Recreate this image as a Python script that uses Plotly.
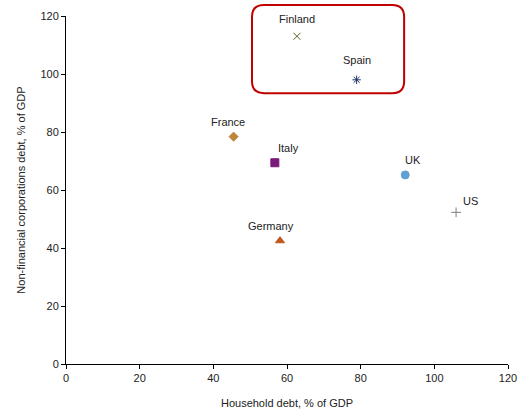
import plotly.graph_objects as go

countries = ["Finland", "Spain", "France", "Italy", "Germany", "UK", "US"]
household_debt = [62.7, 78.9, 45.5, 56.7, 58.1, 92.1, 105.9]
corporate_debt = [113.0, 98.0, 78.4, 69.4, 42.5, 65.2, 52.3]

symbols = ["x-thin-open", "asterisk-open", "diamond", "square", "triangle-up", "circle", "cross-thin-open"]
colors = ["#4F6228", "#1F3864", "#C0873C", "#7A1A7A", "#C0561C", "#5FA0D4", "#808080"]
sizes = [7, 7, 7, 8, 8, 8, 7]
# label offsets in data units (dx, dy)
label_pos = [(0, 5.8), (0, 6.8), (-1.5, 5.2), (3.8, 5.2), (-2.5, 5.0), (2.0, 5.0), (4.0, 3.8)]

X_RANGE = [0, 120]
Y_RANGE = [0, 120]

fig = go.Figure()
for c, x, y, s, col, sz in zip(countries, household_debt, corporate_debt, symbols, colors, sizes):
    fig.add_trace(go.Scatter(
        x=[x], y=[y], mode="markers", name=c,
        marker=dict(symbol=s, color=col, size=sz, line=dict(color=col, width=1)),
        showlegend=False,
    ))

for c, x, y, (dx, dy) in zip(countries, household_debt, corporate_debt, label_pos):
    fig.add_annotation(x=x + dx, y=y + dy, text=c, showarrow=False,
                       font=dict(size=11, color="#222222"))

# rounded highlight box around Finland and Spain (paper coordinates so it may
# extend above the plotting area)
def px(v):
    return (v - X_RANGE[0]) / (X_RANGE[1] - X_RANGE[0])

def py(v):
    return (v - Y_RANGE[0]) / (Y_RANGE[1] - Y_RANGE[0])

x0, x1, y0, y1 = px(50.5), px(91.8), py(93.4), py(123.8)
rx, ry = 12 / 442, 12 / 348
path = (f"M {x0+rx},{y1} L {x1-rx},{y1} Q {x1},{y1} {x1},{y1-ry} "
        f"L {x1},{y0+ry} Q {x1},{y0} {x1-rx},{y0} "
        f"L {x0+rx},{y0} Q {x0},{y0} {x0},{y0+ry} "
        f"L {x0},{y1-ry} Q {x0},{y1} {x0+rx},{y1} Z")
fig.add_shape(type="path", path=path, xref="paper", yref="paper",
              line=dict(color="#C00000", width=2))

axis_common = dict(
    showgrid=False, zeroline=False, showline=True, linecolor="#000000", linewidth=1,
    ticks="outside", ticklen=4, tickcolor="#000000", automargin=False,
    tickfont=dict(size=11, color="#222222"), dtick=20,
)
fig.update_xaxes(range=X_RANGE, title=dict(text="Household debt, % of GDP",
                 font=dict(size=11, color="#222222"), standoff=16), **axis_common)
fig.update_yaxes(range=Y_RANGE, title=dict(text="Non-financial corporations debt, % of GDP",
                 font=dict(size=11, color="#222222"), standoff=12), **axis_common)

fig.update_layout(
    width=527, height=416,
    margin=dict(l=66, r=19, t=16, b=52),
    paper_bgcolor="white", plot_bgcolor="white",
    font=dict(family="Liberation Sans, Arial, sans-serif"),
)

fig.write_html("out.html")
